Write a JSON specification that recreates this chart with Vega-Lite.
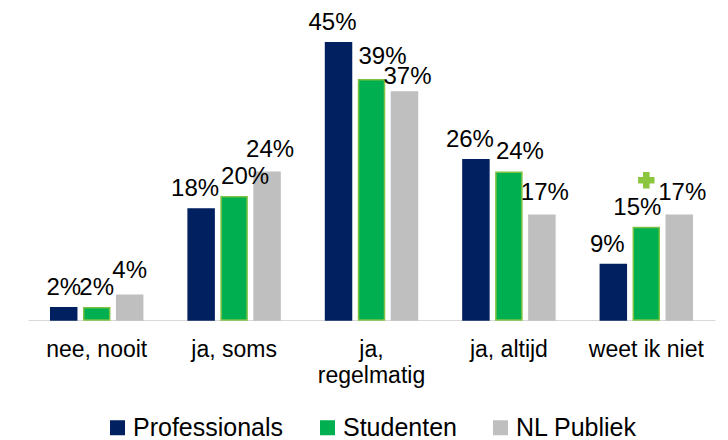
{
  "$schema": "https://vega.github.io/schema/vega-lite/v6.json",
  "autosize": {"type": "none"},
  "width": 687,
  "height": 308,
  "padding": {"left": 28, "top": 12, "right": 13, "bottom": 120},
  "config": {"view": {"stroke": null}, "font": "Liberation Sans"},
  "datasets": {
    "bars": [
      {"cat": "nee, nooit", "group": "Professionals", "value": 0.02},
      {"cat": "nee, nooit", "group": "Studenten", "value": 0.02},
      {"cat": "nee, nooit", "group": "NL Publiek", "value": 0.04},
      {"cat": "ja, soms", "group": "Professionals", "value": 0.18},
      {"cat": "ja, soms", "group": "Studenten", "value": 0.20},
      {"cat": "ja, soms", "group": "NL Publiek", "value": 0.24},
      {"cat": "ja,|regelmatig", "group": "Professionals", "value": 0.45},
      {"cat": "ja,|regelmatig", "group": "Studenten", "value": 0.39},
      {"cat": "ja,|regelmatig", "group": "NL Publiek", "value": 0.37},
      {"cat": "ja, altijd", "group": "Professionals", "value": 0.26},
      {"cat": "ja, altijd", "group": "Studenten", "value": 0.24},
      {"cat": "ja, altijd", "group": "NL Publiek", "value": 0.17},
      {"cat": "weet ik niet", "group": "Professionals", "value": 0.09},
      {"cat": "weet ik niet", "group": "Studenten", "value": 0.15},
      {"cat": "weet ik niet", "group": "NL Publiek", "value": 0.17}
    ],
    "marker": [
      {"cat": "weet ik niet", "group": "Studenten", "value": 0.227}
    ]
  },
  "encoding": {
    "x": {
      "field": "cat", "type": "nominal", "sort": null, "title": null,
      "scale": {"paddingInner": 0.28, "paddingOuter": 0.14},
      "axis": {
        "labelAngle": 0, "labelFontSize": 23, "labelColor": "#000000",
        "labelPadding": 18, "ticks": false, "domainColor": "#d9d9d9",
        "labelExpr": "split(datum.value, '|')", "labelLineHeight": 26,
        "labelBaseline": "top"
      }
    },
    "xOffset": {
      "field": "group", "type": "nominal", "sort": ["Professionals", "Studenten", "NL Publiek"],
      "scale": {"paddingInner": 0.212, "paddingOuter": 0.106}
    },
    "y": {
      "field": "value", "type": "quantitative",
      "scale": {"domain": [0, 0.5]}, "axis": null
    }
  },
  "layer": [
    {
      "data": {"name": "bars"},
      "mark": {"type": "bar", "strokeWidth": 1.5},
      "encoding": {
        "color": {
          "field": "group", "type": "nominal",
          "sort": ["Professionals", "Studenten", "NL Publiek"],
          "scale": {"domain": ["Professionals", "Studenten", "NL Publiek"], "range": ["#002060", "#00b050", "#bfbfbf"]},
          "legend": {
            "title": null, "orient": "none", "direction": "horizontal",
            "legendX": 77, "legendY": 403,
            "labelFontSize": 25, "labelColor": "#000000", "symbolType": "square",
            "symbolSize": 225, "symbolStrokeWidth": 0, "columnPadding": 31, "labelOffset": 3
          }
        },
        "stroke": {
          "field": "group", "type": "nominal", "legend": null,
          "scale": {"domain": ["Professionals", "Studenten", "NL Publiek"], "range": ["#002060", "#7dc242", "#bfbfbf"]}
        }
      }
    },
    {
      "data": {"name": "bars"},
      "mark": {
        "type": "text", "fontSize": 24, "baseline": "alphabetic", "color": "#000000",
        "dy": {"expr": "datum.cat == 'ja,|regelmatig' && datum.group == 'NL Publiek' ? -8 : datum.cat == 'ja,|regelmatig' && datum.group == 'Studenten' ? -16 : datum.cat == 'nee, nooit' && datum.group == 'NL Publiek' ? -17 : datum.group == 'NL Publiek' ? -15 : -13"},
        "dx": {"expr": "datum.cat == 'nee, nooit' ? 0 : datum.group == 'Professionals' ? -6 : datum.group == 'Studenten' ? (datum.cat == 'weet ik niet' ? -9 : 11) : 3"}
      },
      "encoding": {"text": {"field": "value", "type": "quantitative", "format": ".0%"}}
    },
    {
      "data": {"name": "marker"},
      "mark": {"type": "point", "shape": "cross", "filled": true, "size": 270, "color": "#8cc63f", "opacity": 1}
    }
  ]
}
